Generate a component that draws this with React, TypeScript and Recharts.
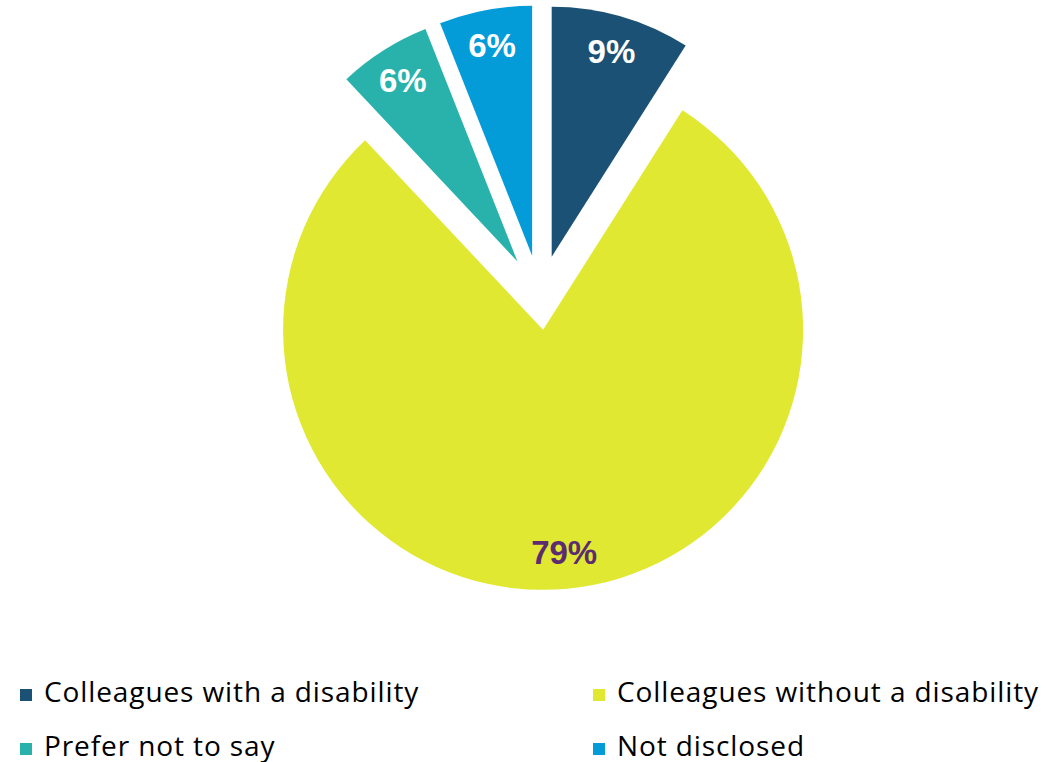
import { PieChart, Pie, Sector, Legend } from 'recharts';

const categories = [
  'Colleagues with a disability',
  'Colleagues without a disability',
  'Prefer not to say',
  'Not disclosed',
];
const shares = [9, 79, 6, 6];
const colors = ['#1b5174', '#e1e832', '#29b2ab', '#039cd8'];
const labelColors = ['#ffffff', '#5b2c6f', '#ffffff', '#ffffff'];

// pull-out distance and radius per slice
const explode = [42, 33, 42, 42];
const radius = [250, 260, 250, 250];

const data = categories.map((name, i) => ({ name, value: shares[i], fill: colors[i] }));

const RAD = Math.PI / 180;

function offsetFor(i: number, midAngle: number) {
  return {
    dx: explode[i] * Math.cos(-midAngle * RAD),
    dy: explode[i] * Math.sin(-midAngle * RAD),
  };
}

function ExplodedSector(props: any) {
  const name = props.name ?? props.payload?.name;
  const i = Math.max(0, categories.indexOf(name));
  const { dx, dy } = offsetFor(i, props.midAngle);
  return (
    <Sector
      cx={props.cx + dx}
      cy={props.cy + dy}
      innerRadius={0}
      outerRadius={radius[i]}
      startAngle={props.startAngle}
      endAngle={props.endAngle}
      fill={colors[i]}
      stroke="none"
    />
  );
}

function renderLabel(props: any) {
  const i = props.index;
  const { dx, dy } = offsetFor(i, props.midAngle);
  const r = radius[i] - 36;
  const x = props.cx + dx + r * Math.cos(-props.midAngle * RAD);
  const y = props.cy + dy + r * Math.sin(-props.midAngle * RAD);
  return (
    <text
      x={x}
      y={y}
      fill={labelColors[i]}
      textAnchor="middle"
      dominantBaseline="central"
      fontFamily="'Liberation Sans', Arial, sans-serif"
      fontWeight="bold"
      fontSize={33}
    >
      {`${Math.round(props.percent * 100)}%`}
    </text>
  );
}

function renderLegend() {
  return (
    <div
      style={{
        display: 'grid',
        gridTemplateColumns: '573px 470px',
        paddingLeft: 20,
        fontFamily: "'Open Sans', sans-serif",
        fontSize: 28,
        letterSpacing: 0.9,
        color: '#000',
      }}
    >
      {categories.map((c, i) => (
        <div key={c} style={{ display: 'flex', alignItems: 'center', height: 54, whiteSpace: 'nowrap' }}>
          <span style={{ width: 12, height: 12, background: colors[i], marginRight: 12, flexShrink: 0 }} />
          <span style={{ position: 'relative', top: -4 }}>{c}</span>
        </div>
      ))}
    </div>
  );
}

export default function App() {
  return (
    <div style={{ position: 'absolute', left: 0, top: 0, width: 1063, height: 762, background: '#fff' }}>
      <PieChart width={1063} height={762} margin={{ top: 0, right: 0, bottom: 0, left: 0 }}>
        <Pie
          data={data}
          dataKey="value"
          nameKey="name"
          cx={540}
          cy={297}
          outerRadius={260}
          startAngle={90}
          endAngle={-270}
          stroke="none"
          labelLine={false}
          label={renderLabel}
          shape={ExplodedSector}
          isAnimationActive={false}
        />
        <Legend
          content={renderLegend}
          wrapperStyle={{ left: 0, top: 668, bottom: 'auto', width: 1063 }}
        />
      </PieChart>
    </div>
  );
}
